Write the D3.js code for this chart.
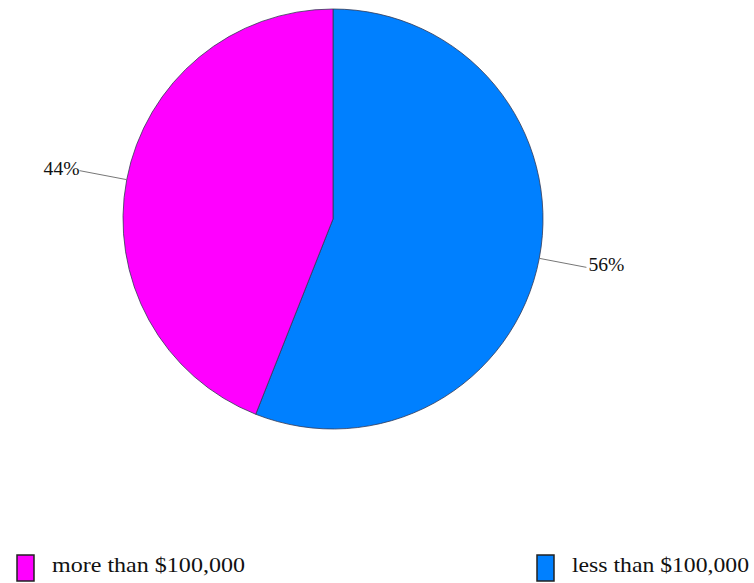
<!DOCTYPE html>
<html>
<head>
<meta charset="utf-8">
<script src="https://cdn.jsdelivr.net/npm/d3@7/dist/d3.min.js"></script>
<style>
  html, body { margin: 0; padding: 0; background: #fff; }
  svg { display: block; }
  svg text { font-family: "Liberation Serif", "DejaVu Serif", serif; }
</style>
</head>
<body>
<svg id="chart" width="754" height="583"></svg>
<script>
// Income split: share of respondents in each bracket
const categories = ["less than $100,000", "more than $100,000"];
const values = [56, 44];
const colors = ["#0080ff", "#ff00ff"];
const legendOrder = ["more than $100,000", "less than $100,000"];

const svg = d3.select("#chart");
const cx = 333, cy = 219, radius = 210;

const color = d3.scaleOrdinal().domain(categories).range(colors);

const pie = d3.pie().sort(null).value(d => d.value);
const arcs = pie(categories.map((c, i) => ({ name: c, value: values[i] })));

const arc = d3.arc().innerRadius(0).outerRadius(radius);
const edgeArc = d3.arc().innerRadius(radius).outerRadius(radius);
const labelArc = d3.arc().innerRadius(radius + 48).outerRadius(radius + 48);

const g = svg.append("g").attr("transform", `translate(${cx},${cy})`);

g.selectAll("path.slice")
  .data(arcs)
  .join("path")
  .attr("class", "slice")
  .attr("d", arc)
  .attr("fill", d => color(d.data.name))
  .attr("stroke", "#333a55")
  .attr("stroke-width", 0.8);

// Leader lines from slice edge to the percentage label
g.selectAll("line.leader")
  .data(arcs)
  .join("line")
  .attr("class", "leader")
  .attr("x1", d => edgeArc.centroid(d)[0])
  .attr("y1", d => edgeArc.centroid(d)[1])
  .attr("x2", d => labelArc.centroid(d)[0])
  .attr("y2", d => labelArc.centroid(d)[1])
  .attr("stroke", "#777")
  .attr("stroke-width", 1);

g.selectAll("text.pct")
  .data(arcs)
  .join("text")
  .attr("class", "pct")
  .attr("x", d => labelArc.centroid(d)[0] + (labelArc.centroid(d)[0] > 0 ? 2 : 0))
  .attr("y", d => labelArc.centroid(d)[1] + 4)
  .attr("text-anchor", d => labelArc.centroid(d)[0] > 0 ? "start" : "end")
  .style("font-family", "'Liberation Serif', 'DejaVu Serif', serif")
  .style("font-size", "19px")
  .attr("fill", "#111")
  .attr("textLength", 36)
  .attr("lengthAdjust", "spacingAndGlyphs")
  .text(d => d.data.value + "%");

// Legend along the bottom
const legendX = d3.scalePoint().domain(legendOrder).range([17, 537]);
const legend = svg.selectAll("g.legend")
  .data(legendOrder)
  .join("g")
  .attr("class", "legend")
  .attr("transform", d => `translate(${legendX(d)},555)`);

legend.append("rect")
  .attr("width", 17)
  .attr("height", 26)
  .attr("fill", d => color(d))
  .attr("stroke", "#222")
  .attr("stroke-width", 1.5);

legend.append("text")
  .attr("x", 35)
  .attr("y", 17)
  .style("font-family", "'Liberation Serif', 'DejaVu Serif', serif")
  .style("font-size", "22px")
  .attr("fill", "#111")
  .attr("textLength", d => d.startsWith("more") ? 193 : 177)
  .attr("lengthAdjust", "spacingAndGlyphs")
  .text(d => d);
</script>
</body>
</html>
